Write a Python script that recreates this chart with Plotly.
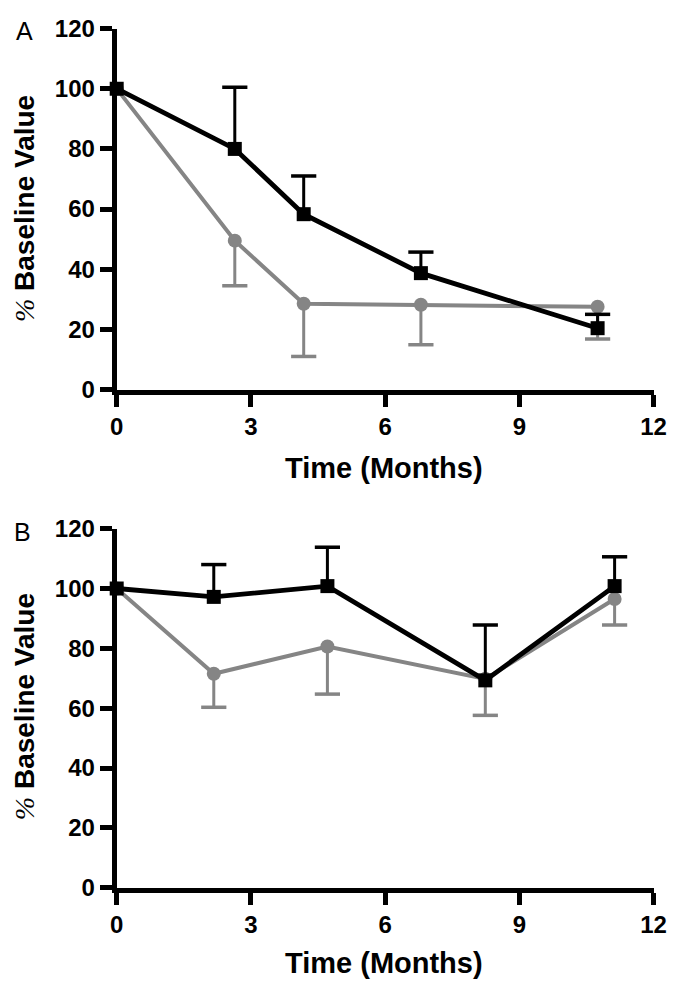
import plotly.graph_objects as go

W, H = 684, 997

# ---------------- data ----------------
# Panel A
a_months = [0, 2.64, 4.18, 6.8, 10.75]
a_black = [100, 80, 58.3, 38.7, 20.4]
a_black_err_up = [0, 20.5, 12.7, 7.0, 4.6]
a_gray = [100, 49.5, 28.5, 28.2, 27.5]
a_gray_err_down = [0, 15.0, 17.5, 13.3, 10.7]

# Panel B
b_months = [0, 2.17, 4.71, 8.24, 11.13]
b_black = [100, 97.2, 100.8, 69.3, 100.8]
b_black_err_up = [0, 10.8, 13.0, 18.5, 9.8]
b_gray = [100, 71.5, 80.6, 69.8, 96.5]
b_gray_err_down = [0, 11.2, 15.9, 12.2, 8.7]

x_ticks = [0, 3, 6, 9, 12]
y_ticks = [0, 20, 40, 60, 80, 100, 120]

BLACK = "#000000"
GRAY = "#858585"
FONT = "Liberation Sans, Arial, sans-serif"


def px_x(p):
    return p / W


def px_y(p):
    return 1 - p / H


def err_parts(x, y, e, sign):
    xs, ys, cx, cy = [], [], [], []
    for xi, yi, ei in zip(x, y, e):
        if ei <= 0:
            continue
        end = yi + sign * ei
        xs += [xi, xi, None]
        ys += [yi, end, None]
        cx.append(xi)
        cy.append(end)
    return xs, ys, cx, cy


fig = go.Figure()


def add_series(x, y, err, sign, color, symbol, msize, lw, xa, ya):
    xs, ys, cx, cy = err_parts(x, y, err, sign)
    fig.add_trace(go.Scatter(x=xs, y=ys, mode="lines", line=dict(color=color, width=3),
                             xaxis=xa, yaxis=ya, cliponaxis=False, hoverinfo="skip"))
    fig.add_trace(go.Scatter(x=cx, y=cy, mode="markers",
                             marker=dict(symbol="line-ew", size=18,
                                         line=dict(color=color, width=3.5)),
                             xaxis=xa, yaxis=ya, cliponaxis=False, hoverinfo="skip"))
    fig.add_trace(go.Scatter(x=x, y=y, mode="lines+markers",
                             line=dict(color=color, width=lw),
                             marker=dict(symbol=symbol, size=msize, color=color),
                             xaxis=xa, yaxis=ya, cliponaxis=False))


add_series(a_months, a_gray, a_gray_err_down, -1, GRAY, "circle", 14, 4, "x", "y")
add_series(a_months, a_black, a_black_err_up, 1, BLACK, "square", 14, 4.8, "x", "y")
add_series(b_months, b_gray, b_gray_err_down, -1, GRAY, "circle", 14, 4, "x2", "y2")
add_series(b_months, b_black, b_black_err_up, 1, BLACK, "square", 14, 4.8, "x2", "y2")

axis_common = dict(
    showline=True, linecolor=BLACK, linewidth=5,
    ticks="outside", ticklen=12, tickwidth=5, tickcolor=BLACK,
    showgrid=False, zeroline=False,
    tickfont=dict(family=FONT, size=24, color=BLACK, weight="bold"),
    fixedrange=True,
)

xdom = [px_x(113), px_x(666)]
fig.update_layout(
    width=W, height=H,
    margin=dict(l=0, r=0, t=0, b=0),
    paper_bgcolor="white", plot_bgcolor="white",
    showlegend=False,
    xaxis=dict(domain=xdom, range=[0, 12], tickvals=x_ticks, anchor="y", **axis_common),
    yaxis=dict(domain=[px_y(386), px_y(15)], range=[0, 120], tickvals=y_ticks, anchor="x", **axis_common),
    xaxis2=dict(domain=xdom, range=[0, 12], tickvals=x_ticks, anchor="y2", **axis_common),
    yaxis2=dict(domain=[px_y(898), px_y(529)], range=[0, 120], tickvals=y_ticks, anchor="x2", **axis_common),
)

ytitle = ("<span style=\"font-family:'Liberation Serif';font-style:italic;font-weight:normal\">%</span>"
          " <b>Baseline Value</b>")

annots = [
    dict(text="A", x=px_x(18), y=px_y(17), size=25, angle=0),
    dict(text="B", x=px_x(16), y=px_y(532), size=25, angle=0),
    dict(text="<b>Time (Months)</b>", x=px_x(388), y=px_y(467), size=29, angle=0),
    dict(text="<b>Time (Months)</b>", x=px_x(388), y=px_y(975), size=29, angle=0),
    dict(text=ytitle, x=px_x(18), y=px_y(200), size=28, angle=-90),
    dict(text=ytitle, x=px_x(18), y=px_y(712), size=28, angle=-90),
]
for a in annots:
    fig.add_annotation(text=a["text"], x=a["x"], y=a["y"], xref="paper", yref="paper",
                       xanchor="center", yanchor="middle", showarrow=False,
                       textangle=a["angle"],
                       font=dict(family=FONT, size=a["size"], color=BLACK))

fig.write_html("out.html", config={"displayModeBar": False, "staticPlot": True},
               post_script="document.body.style.margin='0';document.body.style.overflow='hidden';")
